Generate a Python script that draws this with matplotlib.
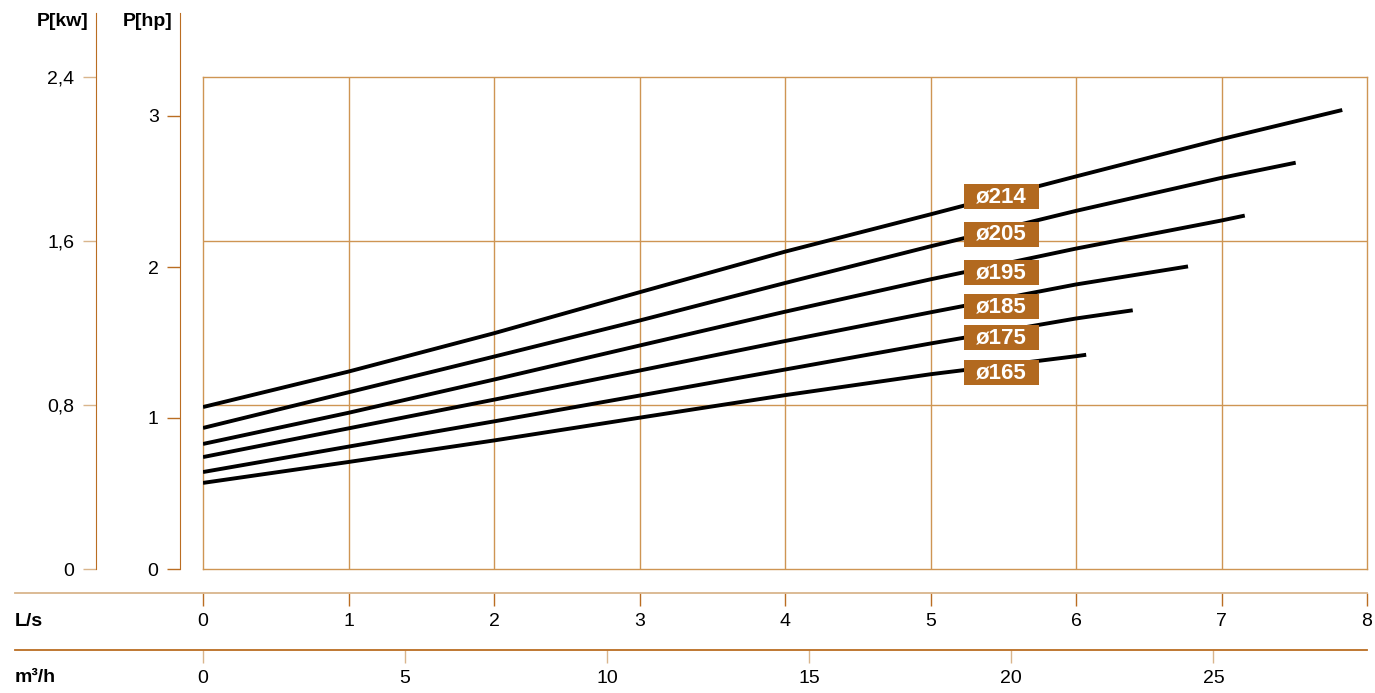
import numpy as np
import matplotlib
matplotlib.use('Agg')
import matplotlib.pyplot as plt
from matplotlib.patches import Rectangle

plt.rcParams['font.family'] = ['Liberation Sans', 'DejaVu Sans']

# flow in L/s, power in kW
flow = [0, 1, 2, 3, 4, 5, 6, 7]
p214 = [0.790, 0.963, 1.150, 1.350, 1.548, 1.730, 1.915, 2.097]
p205 = [0.688, 0.862, 1.036, 1.212, 1.395, 1.574, 1.747, 1.908]
p195 = [0.610, 0.762, 0.924, 1.090, 1.255, 1.413, 1.563, 1.700]
p185 = [0.546, 0.686, 0.826, 0.968, 1.112, 1.252, 1.388]
p175 = [0.473, 0.597, 0.720, 0.846, 0.973, 1.100, 1.222]
p165 = [0.420, 0.522, 0.627, 0.738, 0.848, 0.950, 1.038]
# last point of each curve (flow, kW)
ends = [(7.83, 2.239), (7.51, 1.982), (7.16, 1.724), (6.77, 1.476), (6.39, 1.262), (6.07, 1.045)]
names = ['ø214', 'ø205', 'ø195', 'ø185', 'ø175', 'ø165']
label_y = [1.817, 1.632, 1.444, 1.280, 1.129, 0.958]

kw_ticks = [0, 0.8, 1.6, 2.4]
kw_labels = ['0', '0,8', '1,6', '2,4']
hp_ticks = [0, 1, 2, 3]
ls_ticks = [0, 1, 2, 3, 4, 5, 6, 7, 8]
m3_ticks = [0, 5, 10, 15, 20, 25]

W, H = 1375, 693
dark = '#BA6D22'
light = '#D9B58C'
grid_c = '#CE9553'
box_c = '#B2691F'
fs = 14

def fr(x0, y0, x1, y1):
    # pixel box (top-left origin) -> figure fraction rect
    return [x0 / W, (H - y1) / H, (x1 - x0) / W, (y1 - y0) / H]

fig = plt.figure(figsize=(W / 100, H / 100), dpi=100)

# main plot
ax = fig.add_axes(fr(203, 77, 1367, 569))
ax.set_xlim(0, 8)
ax.set_ylim(0, 2.4)
for v in range(1, 8):
    ax.axvline(v, color=grid_c, lw=1, zorder=1)
for v in [0.8, 1.6]:
    ax.axhline(v, color=grid_c, lw=1, zorder=1)
for s in ax.spines.values():
    s.set_color(grid_c)
    s.set_linewidth(1)
ax.set_xticks([])
ax.set_yticks([])

series = [p214, p205, p195, p185, p175, p165]
for vals, (ex, ey) in zip(series, ends):
    xs = flow[:len(vals)] + [ex]
    ys = vals + [ey]
    ax.plot(xs, ys, color='black', lw=2.8, solid_capstyle='butt',
            solid_joinstyle='round', zorder=3)

bw, bh = 75 / 145.5, 25 / 205
for name, ly in zip(names, label_y):
    ax.add_patch(Rectangle((5.49 - bw / 2, ly - bh / 2), bw, bh, color=box_c, zorder=4, lw=0))
    ax.text(5.49, ly, name, color='white', fontsize=16, fontweight='bold',
            ha='center', va='center', zorder=5)

# kW axis
top_kw = (569 - 13) / 205
akw = fig.add_axes(fr(96, 13, 97, 569))
akw.set_ylim(0, top_kw)
akw.set_xticks([])
akw.set_yticks(kw_ticks)
akw.set_yticklabels(kw_labels)
for k in ['top', 'right', 'bottom']:
    akw.spines[k].set_visible(False)
akw.spines['left'].set_color(dark)
akw.patch.set_visible(False)
akw.tick_params(axis='y', direction='out', length=9.4, width=1, color=light, pad=6, labelsize=fs)

# hp axis
top_hp = (569 - 13) / 151
ahp = fig.add_axes(fr(180, 13, 181, 569))
ahp.set_ylim(0, top_hp)
ahp.set_xticks([])
ahp.set_yticks(hp_ticks)
for k in ['top', 'right', 'bottom']:
    ahp.spines[k].set_visible(False)
ahp.spines['left'].set_color(dark)
ahp.patch.set_visible(False)
ahp.tick_params(axis='y', direction='out', length=9.4, width=1, color=dark, pad=6, labelsize=fs)

# L/s axis
als = fig.add_axes(fr(15, 580, 1367, 593))
als.set_xlim(-188 / 145.5, 8)
als.set_yticks([])
als.set_xticks(ls_ticks)
for k in ['top', 'right', 'left']:
    als.spines[k].set_visible(False)
als.spines['bottom'].set_color(light)
als.spines['bottom'].set_linewidth(1.3)
als.patch.set_visible(False)
als.tick_params(axis='x', direction='out', length=9.4, width=1, color=dark, pad=5, labelsize=fs)

# m3/h axis
am3 = fig.add_axes(fr(15, 637, 1367, 650))
am3.set_xlim(-188 / 145.5 * 3.6, 8 * 3.6)
am3.set_yticks([])
am3.set_xticks(m3_ticks)
for k in ['top', 'right', 'left']:
    am3.spines[k].set_visible(False)
am3.spines['bottom'].set_color(dark)
am3.spines['bottom'].set_linewidth(1.3)
am3.patch.set_visible(False)
am3.tick_params(axis='x', direction='out', length=9.4, width=1, color=light, pad=5, labelsize=fs)

# axis titles
fig.text(88 / W, 1 - 21 / H, 'P[kw]', ha='right', va='center', fontsize=fs, fontweight='bold')
fig.text(172 / W, 1 - 21 / H, 'P[hp]', ha='right', va='center', fontsize=fs, fontweight='bold')
fig.text(15 / W, 1 - 622 / H, 'L/s', ha='left', va='center', fontsize=fs, fontweight='bold')
fig.text(15 / W, 1 - 678 / H, 'm³/h', ha='left', va='center', fontsize=fs, fontweight='bold')

fig.savefig('out.png', dpi=100)
